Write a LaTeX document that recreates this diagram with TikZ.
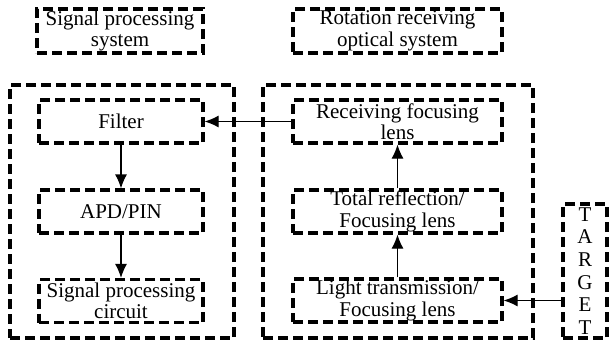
\documentclass[tikz,border=0pt]{standalone}
\usepackage{fontspec}
\setmainfont{Liberation Serif}
\usetikzlibrary{arrows.meta}
\tikzset{
  dbox/.style={draw, dashed, line width=3.2pt, dash pattern=on 10pt off 5pt,
    inner sep=0pt, align=center},
  flow/.style={-{Latex[length=14pt,width=12pt]}, line width=1.2pt}
}
\begin{document}
\begin{tikzpicture}[x=1pt, y=-1pt, font=\fontsize{21}{21.5}\selectfont]
\useasboundingbox (0,0) rectangle (609,343);
% titles
\node[dbox, minimum width=166, minimum height=44] (sigtitle) at (120,31) {Signal processing\\system};
\node[dbox, minimum width=209, minimum height=44] (rottitle) at (397.5,31) {Rotation receiving\\optical system};
% outer frames
\node[dbox, minimum width=224, minimum height=253] (sigsys) at (122,211.5) {};
\node[dbox, minimum width=270, minimum height=253] (rotsys) at (398,211.5) {};
% signal processing chain
\node[dbox, minimum width=164, minimum height=43] (filter) at (121,121.5) {Filter};
\node[dbox, minimum width=164, minimum height=43] (apd) at (121,211.5) {APD/PIN};
\node[dbox, minimum width=164, minimum height=43] (circuit) at (121,301) {Signal processing\\circuit};
% optical chain
\node[dbox, minimum width=209, minimum height=43] (recv) at (397.5,121.5) {Receiving focusing\\lens};
\node[dbox, minimum width=209, minimum height=43] (total) at (397.5,211.5) {Total reflection/\\Focusing lens};
\node[dbox, minimum width=209, minimum height=43] (light) at (397.5,300.5) {Light transmission/\\Focusing lens};
% target
\node[dbox, minimum width=44, minimum height=134, font=\fontsize{21}{22.6}\selectfont] (target) at (585,271) {T\\A\\R\\G\\E\\T};
% arrows
\draw[flow] (light.east -| target.west) -- (light.east);
\draw[flow] (light) -- (total);
\draw[flow] (total) -- (recv);
\draw[flow] (recv) -- (filter);
\draw[flow] (filter) -- (apd);
\draw[flow] (apd) -- (circuit);
\end{tikzpicture}
\end{document}
